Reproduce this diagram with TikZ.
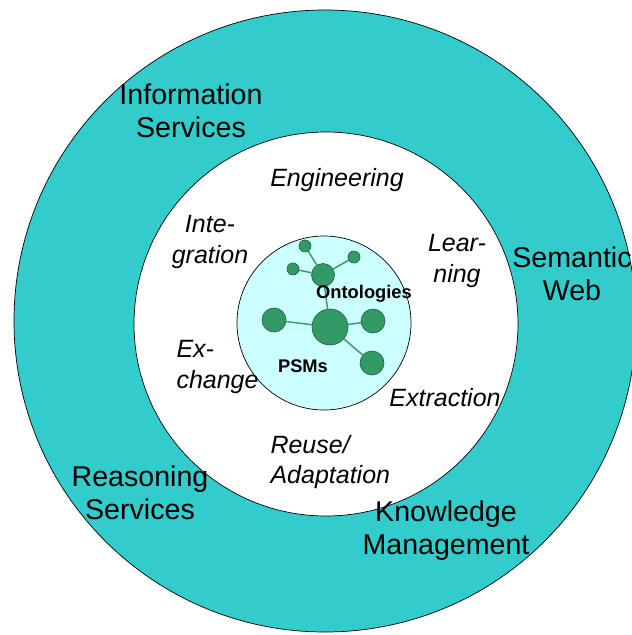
\documentclass[tikz,border=0pt]{standalone}
\usepackage{fontspec}
\setmainfont{Liberation Sans}
\definecolor{ringteal}{HTML}{33CCCC}
\definecolor{corecyan}{HTML}{CCFFFF}
\definecolor{nodegreen}{HTML}{339966}
\definecolor{nodeedge}{HTML}{1F5F3F}
\begin{document}
\begin{tikzpicture}[x=1pt,y=-1pt,
    outerlabel/.style={align=center,font=\fontsize{28.6}{33}\selectfont},
    innerlabel/.style={align=center,font=\fontsize{25}{30.5}\itshape\selectfont},
    termlabel/.style={font=\fontsize{18.3}{21}\bfseries\selectfont},
    dot/.style={circle,draw=nodeedge,fill=nodegreen,inner sep=0pt,line width=0.6pt},
    link/.style={draw=nodegreen,line width=1.4pt}]
    \useasboundingbox (0,0) rectangle (632,635);
    \clip (0,0) rectangle (632,635);
    % Draw outer ring
    \draw[fill=ringteal,line width=0.7pt] (325,321) circle (311);
    % Draw inner white disc
    \draw[fill=white,line width=0.7pt] (326,324) circle (192);
    % Draw core disc
    \draw[fill=corecyan,line width=0.7pt] (324,323) circle (87);
    % Draw network of nodes
    \node[dot,minimum size=36pt] (hub) at (330,327) {};
    \node[dot,minimum size=24pt] (west) at (274,320) {};
    \node[dot,minimum size=24pt] (east) at (373,321) {};
    \node[dot,minimum size=24pt] (southeast) at (372,363) {};
    \node[dot,minimum size=23pt] (upper) at (323,275) {};
    \node[dot,minimum size=12pt] (tiptop) at (305,246) {};
    \node[dot,minimum size=12pt] (tipleft) at (293,269) {};
    \node[dot,minimum size=12pt] (tipright) at (354,257) {};
    \draw[link] (hub) -- (west);
    \draw[link] (hub) -- (east);
    \draw[link] (hub) -- (southeast);
    \draw[link] (hub) -- (upper);
    \draw[link] (upper) -- (tiptop);
    \draw[link] (upper) -- (tipleft);
    \draw[link] (upper) -- (tipright);
    % Core labels
    \node[termlabel] (onto) at (364,294) {Ontologies};
    \node[termlabel] (psms) at (303,366) {PSMs};
    % Inner ring labels
    \node[innerlabel] (eng) at (337,180) {Engineering};
    \node[innerlabel] (integ) at (210,242) {Inte-\\gration};
    \node[innerlabel] (learn) at (457,261) {Lear-\\ning};
    \node[innerlabel,align=left,anchor=west] (exch) at (173,367) {Ex-\\change};
    \node[innerlabel] (extr) at (445,398) {Extraction};
    \node[innerlabel,align=left,anchor=west] (reuse) at (267,462) {Reuse/\\Adaptation};
    % Outer ring labels
    \node[outerlabel] (info) at (191,111) {Information\\Services};
    \node[outerlabel] (semweb) at (572,274) {Semantic\\Web};
    \node[outerlabel] (reason) at (140,493) {Reasoning\\Services};
    \node[outerlabel] (km) at (446,531) {Knowledge\\Management};
\end{tikzpicture}
\end{document}
